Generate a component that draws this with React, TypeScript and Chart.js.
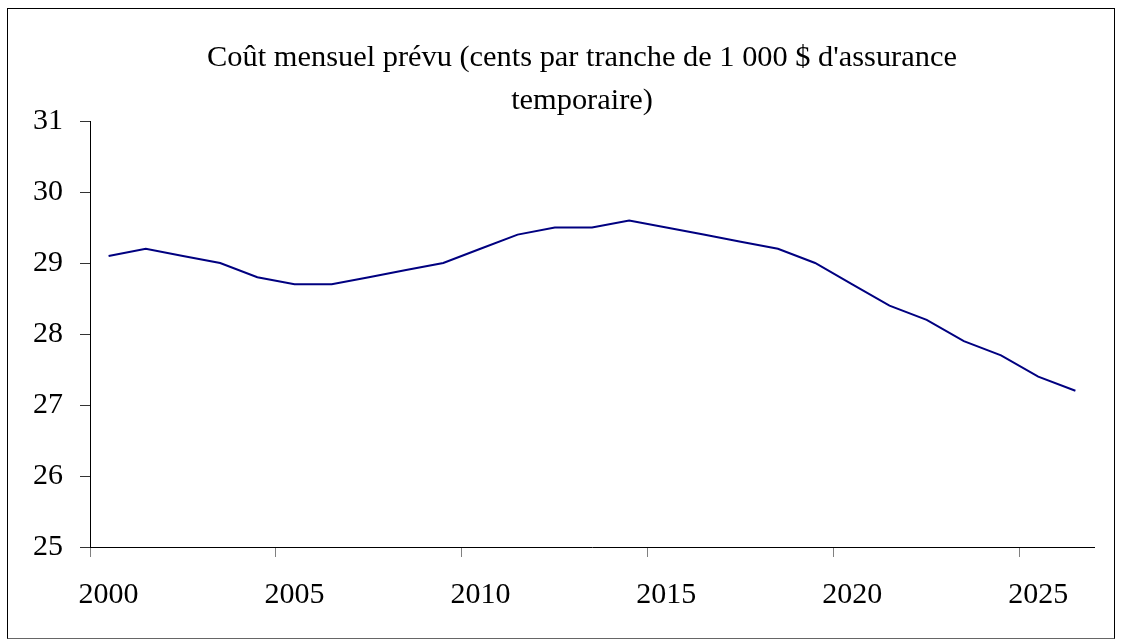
import React, { useEffect, useRef } from "react";
import { Chart, registerables } from "chart.js";

Chart.register(...registerables);

const YEARS = [
  "2000", "2001", "2002", "2003", "2004", "2005", "2006", "2007", "2008", "2009",
  "2010", "2011", "2012", "2013", "2014", "2015", "2016", "2017", "2018", "2019",
  "2020", "2021", "2022", "2023", "2024", "2025", "2026",
];
const COST = [
  29.1, 29.2, 29.1, 29.0, 28.8, 28.7, 28.7, 28.8, 28.9, 29.0,
  29.2, 29.4, 29.5, 29.5, 29.6, 29.5, 29.4, 29.3, 29.2, 29.0,
  28.7, 28.4, 28.2, 27.9, 27.7, 27.4, 27.2,
];
const Y_MIN = 25;
const Y_MAX = 31;
const Y_STEP = 1;
const LABEL_EVERY = 5;
const TITLE_LINES = [
  "Coût mensuel prévu (cents par tranche de 1 000 $ d'assurance",
  "temporaire)",
];

const FONT = "'Liberation Serif', 'Times New Roman', Times, serif";
const TITLE_CENTER_X = 582;
const TITLE_FIRST_BASELINE = 66;
const TITLE_LINE_GAP = 43;

const titlePlugin = {
  id: "twoLineTitle",
  afterDraw(chart: any) {
    const ctx = chart.ctx as CanvasRenderingContext2D;
    ctx.save();
    ctx.font = `normal 30.4px ${FONT}`;
    ctx.fillStyle = "#000";
    ctx.textAlign = "center";
    ctx.textBaseline = "alphabetic";
    TITLE_LINES.forEach((line, i) => {
      ctx.fillText(line, TITLE_CENTER_X, TITLE_FIRST_BASELINE + i * TITLE_LINE_GAP);
    });
    ctx.restore();
  },
};

export default function App() {
  const ref = useRef<HTMLCanvasElement | null>(null);

  useEffect(() => {
    if (!ref.current) return;
    const chart = new Chart(ref.current, {
      type: "line",
      data: {
        labels: YEARS,
        datasets: [
          {
            data: COST,
            borderColor: "#000080",
            borderWidth: 2,
            pointRadius: 0,
            tension: 0,
            fill: false,
          },
        ],
      },
      options: {
        animation: false,
        responsive: false,
        devicePixelRatio: 1,
        layout: { padding: { left: 0, right: 29, top: 121, bottom: 0 } },
        plugins: {
          legend: { display: false },
          tooltip: { enabled: false },
          title: { display: false },
        },
        scales: {
          x: {
            type: "category",
            offset: true,
            afterFit: (s: any) => {
              s.height = 94;
            },
            border: { display: true, color: "#000", width: 1 },
            grid: {
              offset: true,
              drawOnChartArea: false,
              drawTicks: true,
              tickLength: 10,
              tickColor: (ctx: any) =>
                typeof ctx.index === "number" && ctx.index % LABEL_EVERY === 0
                  ? "#808080"
                  : "rgba(0,0,0,0)",
            },
            ticks: {
              autoSkip: false,
              maxRotation: 0,
              minRotation: 0,
              padding: 20,
              color: "#000",
              font: { family: FONT, size: 30 },
              callback: (_v: any, i: number) => (i % LABEL_EVERY === 0 ? YEARS[i] : ""),
            },
          },
          y: {
            min: Y_MIN,
            max: Y_MAX,
            afterFit: (s: any) => {
              s.width = 90;
            },
            border: { display: true, color: "#000", width: 1 },
            grid: {
              drawOnChartArea: false,
              drawTicks: true,
              tickLength: 10,
              tickColor: "#333",
            },
            ticks: {
              stepSize: Y_STEP,
              padding: 17,
              color: "#000",
              font: { family: FONT, size: 30 },
            },
          },
        },
      },
      plugins: [titlePlugin],
    });
    return () => chart.destroy();
  }, []);

  return (
    <div style={{ position: "fixed", left: 0, top: 0, width: 1123, height: 641, background: "#fff" }}>
      <div
        style={{
          position: "absolute",
          left: 7,
          top: 8,
          width: 1108,
          height: 631,
          boxSizing: "border-box",
          borderTop: "1px solid #000",
          borderLeft: "1px solid #000",
          borderRight: "1px solid #000",
          borderBottom: "1px solid #666",
        }}
      />
      <canvas ref={ref} width={1123} height={641} style={{ position: "absolute", left: 0, top: 0, display: "block" }} />
    </div>
  );
}
